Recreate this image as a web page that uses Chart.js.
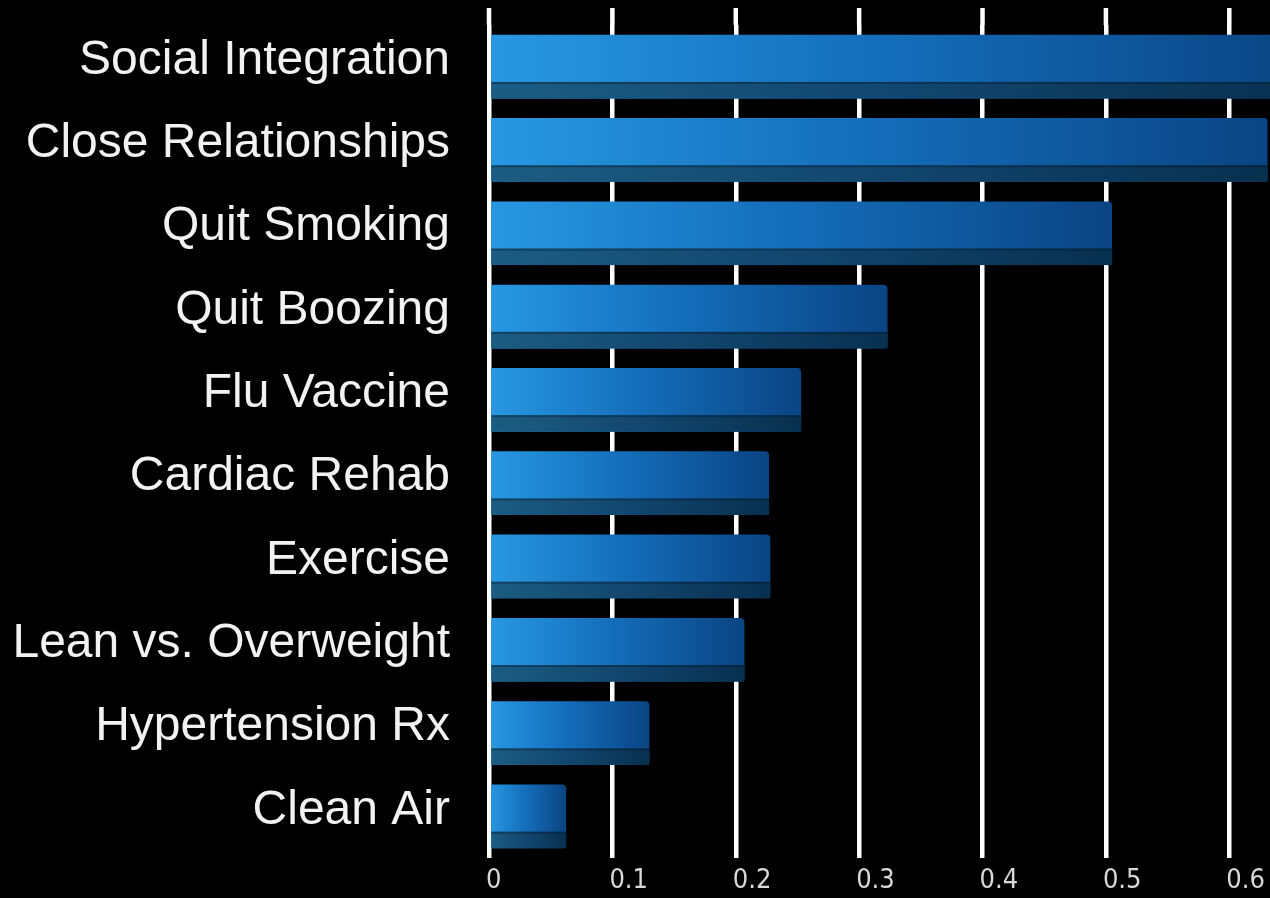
<!DOCTYPE html>
<html>
<head>
<meta charset="utf-8">
<script src="https://cdn.jsdelivr.net/npm/chart.js@4.4.1/dist/chart.umd.min.js"></script>
<style>
  html, body { margin: 0; padding: 0; background: #000; }
  #wrap { width: 1270px; height: 898px; }
</style>
</head>
<body>
<div id="wrap"><canvas id="effectChart" width="1270" height="898"></canvas></div>
<script>
// Datos
const categories = ['Social Integration', 'Close Relationships', 'Quit Smoking', 'Quit Boozing',
  'Flu Vaccine', 'Cardiac Rehab', 'Exercise', 'Lean vs. Overweight', 'Hypertension Rx', 'Clean Air'];
const effectValues = [0.66, 0.631, 0.505, 0.323, 0.253, 0.227, 0.228, 0.207, 0.130, 0.0625];
const xTickValues = [0, 0.1, 0.2, 0.3, 0.4, 0.5, 0.6];
const xMax = 0.633;

// gradiente horizontal de cada barra (claro a la izquierda, oscuro al final)
function barFill(context) {
  const chart = context.chart;
  if (!chart.chartArea || context.raw == null) return '#1a7fd0';
  const x = chart.scales.x;
  const x0 = x.getPixelForValue(0);
  const x1 = x.getPixelForValue(context.raw);
  const g = chart.ctx.createLinearGradient(x0, 0, Math.max(x1, x0 + 1), 0);
  g.addColorStop(0, '#2898e2');
  g.addColorStop(0.45, '#1570bd');
  g.addColorStop(1, '#0a4483');
  return g;
}

// cara inferior oscura + lineas de la rejilla hacia arriba
const bevelPlugin = {
  id: 'bevel',
  beforeDatasetsDraw(chart) {
    const ctx = chart.ctx;
    const x = chart.scales.x;
    ctx.save();
    ctx.strokeStyle = '#ffffff';
    ctx.lineWidth = 4.5;
    x.ticks.forEach(t => {
      const px = x.getPixelForValue(t.value);
      ctx.beginPath();
      ctx.moveTo(px, 8);
      ctx.lineTo(px, chart.chartArea.top);
      ctx.stroke();
    });
    ctx.restore();
  },
  afterDatasetsDraw(chart) {
    const ctx = chart.ctx;
    const area = chart.chartArea;
    const meta = chart.getDatasetMeta(0);
    ctx.save();
    ctx.beginPath();
    ctx.rect(area.left, area.top - 20, area.right - area.left, area.bottom - area.top + 40);
    ctx.clip();
    meta.data.forEach(el => {
      const p = el.getProps(['x', 'y', 'base', 'height'], true);
      const h = p.height * 0.26;
      const top = p.y + p.height / 2 - h;
      const g = ctx.createLinearGradient(p.base, 0, Math.max(p.x, p.base + 1), 0);
      g.addColorStop(0, '#1c5c82');
      g.addColorStop(0.5, '#12466e');
      g.addColorStop(1, '#08304f');
      ctx.fillStyle = g;
      ctx.fillRect(p.base, top, p.x - p.base, h);
      // linea de sombra entre cara superior e inferior
      ctx.fillStyle = 'rgba(0,20,40,0.35)';
      ctx.fillRect(p.base, top, p.x - p.base, 2);
    });
    ctx.restore();
  }
};

const ctx = document.getElementById('effectChart').getContext('2d');
new Chart(ctx, {
  type: 'bar',
  data: {
    labels: categories,
    datasets: [{
      data: effectValues,
      backgroundColor: barFill,
      borderWidth: 0,
      borderRadius: { topRight: 4, bottomRight: 4 },
      borderSkipped: 'start',
      categoryPercentage: 1,
      barPercentage: 0.765
    }]
  },
  options: {
    indexAxis: 'y',
    responsive: false,
    devicePixelRatio: 1,
    animation: false,
    layout: { padding: { top: 25, right: 0, left: 0, bottom: 0 } },
    plugins: {
      legend: { display: false },
      tooltip: { enabled: false }
    },
    scales: {
      x: {
        min: 0,
        max: xMax,
        afterBuildTicks: s => { s.ticks = xTickValues.map(v => ({ value: v })); },
        afterFit: s => { s.height = 40; s.paddingLeft = 0; s.paddingRight = 0; },
        grid: { color: '#ffffff', lineWidth: 4.5, drawTicks: false },
        border: { display: false },
        ticks: {
          align: 'start',
          padding: 7,
          labelOffset: -3,
          color: '#d8d8d8',
          font: { family: '"Liberation Sans Narrow", "DejaVu Sans Condensed", sans-serif', size: 27 },
          callback: v => String(Math.round(v * 10) / 10)
        }
      },
      y: {
        afterFit: s => { s.width = 489; s.paddingTop = 0; s.paddingBottom = 0; },
        grid: { display: false },
        border: { display: false },
        ticks: {
          padding: 31,
          labelOffset: -6,
          color: '#f2f2f2',
          font: { family: '"Liberation Sans", Arial, sans-serif', size: 48 }
        }
      }
    }
  },
  plugins: [bevelPlugin]
});
</script>
</body>
</html>
